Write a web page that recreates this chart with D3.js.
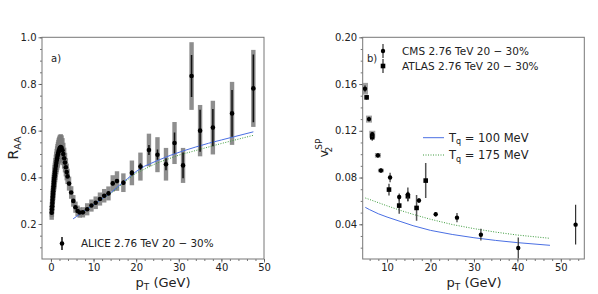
<!DOCTYPE html>
<html>
<head>
<meta charset="utf-8">
<script src="https://cdn.jsdelivr.net/npm/d3@7"></script>
<style>
  body { margin: 0; background: #fff; }
  svg text { font-family: "DejaVu Sans", sans-serif; fill: #222; }
</style>
</head>
<body>
<script>
// ---- panel a) ALICE R_AA, 20-30% ----
const alicePt = [0.175,0.225,0.275,0.325,0.375,0.425,0.475,0.525,0.575,0.625,0.675,0.725,0.775,0.825,0.875,0.925,0.975,
  1.05,1.15,1.25,1.35,1.45,1.55,1.65,1.75,1.85,1.95,2.1,2.3,2.5,2.7,2.9,3.1,3.3,3.5,3.7,3.9,4.25,4.75,5.25,5.75,6.25,6.75,7.5,
  8.5,9.5,10.5,11.5,12.5,13.5,14.5,15.5,17,19,21,23,25,27,29,31,33,35,38,42.5,47.5]
const aliceRaa = [0.248,0.262,0.276,0.290,0.303,0.316,0.328,0.340,0.351,0.362,0.372,0.382,0.391,0.400,0.409,0.417,0.425,
  0.436,0.449,0.461,0.472,0.482,0.491,0.499,0.507,0.514,0.520,0.527,0.530,0.526,0.516,0.500,0.482,0.463,0.443,0.423,0.404,0.373,0.335,0.299,0.272,0.256,0.249,0.250,
  0.263,0.279,0.291,0.307,0.321,0.331,0.374,0.384,0.377,0.419,0.446,0.517,0.497,0.456,0.547,0.451,0.834,0.600,0.613,0.674,0.781]
const aliceStat = [0.003,0.003,0.003,0.003,0.003,0.003,0.003,0.003,0.003,0.003,0.003,0.003,0.003,0.003,0.003,0.003,0.003,
  0.003,0.003,0.003,0.003,0.003,0.003,0.003,0.003,0.003,0.003,0.003,0.003,0.003,0.003,0.003,0.003,0.003,0.003,0.003,0.003,0.003,0.003,0.003,0.003,0.003,0.003,0.004,
  0.005,0.005,0.006,0.006,0.007,0.007,0.008,0.009,0.010,0.011,0.014,0.021,0.022,0.026,0.045,0.055,0.090,0.090,0.080,0.100,0.145]
const aliceSyst = [0.030,0.031,0.032,0.033,0.034,0.035,0.036,0.037,0.038,0.039,0.040,0.041,0.042,0.043,0.044,0.045,0.046,
  0.047,0.048,0.049,0.050,0.051,0.052,0.053,0.054,0.055,0.055,0.055,0.055,0.054,0.052,0.048,0.045,0.042,0.039,0.036,0.033,0.030,0.027,0.025,0.024,0.023,0.022,0.022,
  0.026,0.026,0.027,0.028,0.029,0.030,0.035,0.042,0.040,0.053,0.060,0.070,0.075,0.070,0.090,0.075,0.145,0.110,0.115,0.135,0.165]

const raaBluePt  = [5.2,6,7,8,9,10,12,14,16,18,20,22,25,28,31,34,37,40,43,47.5]
const raaBlue    = [0.222,0.232,0.245,0.258,0.270,0.283,0.308,0.333,0.365,0.395,0.425,0.448,0.472,0.494,0.513,0.530,0.546,0.560,0.574,0.595]
const raaGreenPt = [7,10,14,18,20,25,30,35,40,47.5]
const raaGreen   = [0.250,0.283,0.330,0.390,0.418,0.462,0.495,0.520,0.545,0.580]

// ---- panel b) v2 ----
const cmsPt   = [4.93,5.85,6.6,7.9,8.6,10.7,12.8,14.8,17.35,21.2,26.1,31.6,40.2,53.4]
const cmsV2   = [0.156,0.130,0.117,0.099,0.086,0.080,0.0634,0.0655,0.0603,0.0486,0.0457,0.0311,0.0197,0.0397]
const cmsErr  = [0.003,0.002,0.002,0.002,0.002,0.004,0.003,0.006,0.002,0.002,0.004,0.005,0.009,0.017]
const cmsSyst = [0.005,0.003,0.003,0.002,0.0015,0,0,0,0,0,0,0,0,0]
const atlasPt  = [5.3,6.6,10.45,12.8,14.8,16.8,18.9]
const atlasV2  = [0.1486,0.1145,0.0697,0.0560,0.0640,0.0540,0.0774]
const atlasErr = [0.002,0.003,0.005,0.007,0.004,0.011,0.015]

const v2BluePt  = [5,6,8,10,13,16,20,25,30,35,40,47.5]
const v2Blue    = [0.0545,0.0525,0.049,0.0462,0.0425,0.0388,0.0348,0.0313,0.0285,0.0262,0.0243,0.022]
const v2GreenPt = [5,6,8,10,13,16,20,25,30,35,40,47.5]
const v2Green   = [0.0625,0.0612,0.0585,0.0558,0.052,0.0485,0.0443,0.0398,0.0363,0.0333,0.0308,0.028]

const W = 598, H = 294
const svg = d3.select('body').append('svg').attr('width', W).attr('height', H)
svg.append('rect').attr('width', W).attr('height', H).attr('fill', '#fff')

const blue = '#4a6fe3', green = '#3c9a3c'

const xL = d3.scaleLinear().domain([-2.1, 50]).range([42, 264])
const yL = d3.scaleLinear().domain([0.05, 1.0]).range([259, 37.3])
const xR = d3.scaleLinear().domain([4.4, 55.4]).range([362.7, 584.3])
const yR = d3.scaleLinear().domain([0.0103, 0.20]).range([259, 37.3])

function frame(x, y, xMaj, xMin, yMaj, yMin, yFmt) {
  const g = svg.append('g')
  g.append('g').attr('transform', `translate(0,${y.range()[0]})`)
    .call(d3.axisBottom(x).tickValues(xMin).tickSize(2).tickFormat(''))
  g.append('g').attr('transform', `translate(0,${y.range()[0]})`)
    .call(d3.axisBottom(x).tickValues(xMaj).tickSize(3.5).tickPadding(1.5).tickFormat(d3.format('d')))
  g.append('g').attr('transform', `translate(${x.range()[0]},0)`)
    .call(d3.axisLeft(y).tickValues(yMin).tickSize(2).tickFormat(''))
  g.append('g').attr('transform', `translate(${x.range()[0]},0)`)
    .call(d3.axisLeft(y).tickValues(yMaj).tickSize(3.5).tickPadding(2).tickFormat(yFmt))
  g.selectAll('.domain').remove()
  g.selectAll('.tick line').attr('stroke', '#555').attr('stroke-width', 0.8)
  g.selectAll('.tick text').attr('font-size', 10).style('fill', '#222')
  g.append('rect')
    .attr('x', x.range()[0]).attr('y', y.range()[1])
    .attr('width', x.range()[1] - x.range()[0]).attr('height', y.range()[0] - y.range()[1])
    .attr('fill', 'none').attr('stroke', '#777').attr('stroke-width', 1)
  return g
}

const even = (a, b, s) => d3.range(a, b + s / 2, s).map(v => +v.toFixed(4))

frame(xL, yL, [0,10,20,30,40,50], even(0, 50, 2),
  [0.2,0.4,0.6,0.8,1.0], even(0.1, 1.0, 0.05), d3.format('.1f'))
frame(xR, yR, [10,20,30,40,50], even(6, 54, 2),
  [0.04,0.08,0.12,0.16,0.20], even(0.02, 0.2, 0.01), d3.format('.2f'))

// clip paths
svg.append('clipPath').attr('id', 'clipL').append('rect')
  .attr('x', 42).attr('y', 37.3).attr('width', 222).attr('height', 221.7)
svg.append('clipPath').attr('id', 'clipR').append('rect')
  .attr('x', 362.7).attr('y', 37.3).attr('width', 221.6).attr('height', 221.7)

// ---- panel a data ----
const gA = svg.append('g').attr('clip-path', 'url(#clipL)')
const alice = alicePt.map((p, i) => ({p, v: aliceRaa[i], s: aliceStat[i], sy: aliceSyst[i]}))
gA.selectAll('rect.syst').data(alice).join('rect')
  .attr('x', d => xL(d.p) - 2.2).attr('width', 4.4)
  .attr('y', d => yL(d.v + d.sy)).attr('height', d => yL(d.v - d.sy) - yL(d.v + d.sy))
  .attr('fill', '#7a7a7a').attr('fill-opacity', 0.85)
const lineL = (px, py) => d3.line().x((d, i) => xL(px[i])).y(d => yL(d))
gA.append('path').datum(raaGreen).attr('d', lineL(raaGreenPt, raaGreen))
  .attr('fill', 'none').attr('stroke', green).attr('stroke-width', 1).attr('stroke-dasharray', '1,1.5')
gA.append('path').datum(raaBlue).attr('d', lineL(raaBluePt, raaBlue))
  .attr('fill', 'none').attr('stroke', blue).attr('stroke-width', 1)
gA.selectAll('line.stat').data(alice).join('line')
  .attr('x1', d => xL(d.p)).attr('x2', d => xL(d.p))
  .attr('y1', d => yL(d.v + d.s)).attr('y2', d => yL(d.v - d.s))
  .attr('stroke', '#111').attr('stroke-width', 1.5)
gA.selectAll('circle').data(alice).join('circle')
  .attr('cx', d => xL(d.p)).attr('cy', d => yL(d.v)).attr('r', 2.3).attr('fill', '#000')

svg.append('text').attr('x', 51).attr('y', 62).attr('font-size', 10).text('a)')
// legend a
svg.append('line').attr('x1', 62).attr('x2', 62).attr('y1', 237).attr('y2', 250)
  .attr('stroke', '#111').attr('stroke-width', 1.5)
svg.append('circle').attr('cx', 62).attr('cy', 243.5).attr('r', 2.3).attr('fill', '#000')
svg.append('text').attr('x', 81).attr('y', 247).attr('font-size', 10.4).text('ALICE 2.76 TeV 20 − 30%')

// ---- panel b data ----
const gB = svg.append('g').attr('clip-path', 'url(#clipR)')
const lineR = (px) => d3.line().x((d, i) => xR(px[i])).y(d => yR(d))
gB.append('path').datum(v2Green).attr('d', lineR(v2GreenPt))
  .attr('fill', 'none').attr('stroke', green).attr('stroke-width', 1).attr('stroke-dasharray', '1,1.5')
gB.append('path').datum(v2Blue).attr('d', lineR(v2BluePt))
  .attr('fill', 'none').attr('stroke', blue).attr('stroke-width', 1)

const cms = cmsPt.map((p, i) => ({p, v: cmsV2[i], e: cmsErr[i], sy: cmsSyst[i]}))
const atlas = atlasPt.map((p, i) => ({p, v: atlasV2[i], e: atlasErr[i]}))
gB.selectAll('rect.syst').data(cms.filter(d => d.sy > 0)).join('rect')
  .attr('x', d => xR(d.p) - 3).attr('width', 6)
  .attr('y', d => yR(d.v + d.sy)).attr('height', d => yR(d.v - d.sy) - yR(d.v + d.sy))
  .attr('fill', '#8a8a8a').attr('fill-opacity', 0.8)
gB.selectAll('line.atl').data(atlas).join('line')
  .attr('x1', d => xR(d.p)).attr('x2', d => xR(d.p))
  .attr('y1', d => yR(d.v + d.e)).attr('y2', d => yR(d.v - d.e))
  .attr('stroke', '#555').attr('stroke-width', 1.5)
gB.selectAll('rect.atl').data(atlas).join('rect')
  .attr('x', d => xR(d.p) - 2.3).attr('y', d => yR(d.v) - 2.3).attr('width', 4.6).attr('height', 4.6)
  .attr('fill', '#000')
gB.selectAll('line.cms').data(cms).join('line')
  .attr('x1', d => xR(d.p)).attr('x2', d => xR(d.p))
  .attr('y1', d => yR(d.v + d.e)).attr('y2', d => yR(d.v - d.e))
  .attr('stroke', '#333').attr('stroke-width', 1.2)
gB.selectAll('circle').data(cms).join('circle')
  .attr('cx', d => xR(d.p)).attr('cy', d => yR(d.v)).attr('r', 2.2).attr('fill', '#000')

svg.append('text').attr('x', 367).attr('y', 62).attr('font-size', 10).text('b)')
// legend b
svg.append('line').attr('x1', 383).attr('x2', 383).attr('y1', 44).attr('y2', 58)
  .attr('stroke', '#333').attr('stroke-width', 1.2)
svg.append('circle').attr('cx', 383).attr('cy', 51).attr('r', 2.2).attr('fill', '#000')
svg.append('text').attr('x', 402).attr('y', 54.5).attr('font-size', 10.5).text('CMS 2.76 TeV 20 − 30%')
svg.append('line').attr('x1', 383).attr('x2', 383).attr('y1', 59).attr('y2', 73)
  .attr('stroke', '#555').attr('stroke-width', 1.5)
svg.append('rect').attr('x', 380.7).attr('y', 63.7).attr('width', 4.6).attr('height', 4.6).attr('fill', '#000')
svg.append('text').attr('x', 402).attr('y', 70).attr('font-size', 10.5).text('ATLAS 2.76 TeV 20 − 30%')

svg.append('line').attr('x1', 423).attr('x2', 444).attr('y1', 137.7).attr('y2', 137.7)
  .attr('stroke', blue).attr('stroke-width', 1)
svg.append('line').attr('x1', 423).attr('x2', 444).attr('y1', 155).attr('y2', 155)
  .attr('stroke', green).attr('stroke-width', 1).attr('stroke-dasharray', '1,1.5')
const tq1 = svg.append('text').attr('x', 449).attr('y', 141.5).attr('font-size', 11.5)
tq1.append('tspan').text('T')
tq1.append('tspan').attr('font-size', 8).attr('dy', 2.5).text('q')
tq1.append('tspan').attr('dy', -2.5).text(' = 100 MeV')
const tq2 = svg.append('text').attr('x', 449).attr('y', 159).attr('font-size', 11.5)
tq2.append('tspan').text('T')
tq2.append('tspan').attr('font-size', 8).attr('dy', 2.5).text('q')
tq2.append('tspan').attr('dy', -2.5).text(' = 175 MeV')

// axis labels
function ptLabel(cx) {
  const t = svg.append('text').attr('x', cx).attr('y', 287).attr('font-size', 13).attr('text-anchor', 'middle')
  t.append('tspan').text('p')
  t.append('tspan').attr('font-size', 9).attr('dy', 3).text('T')
  t.append('tspan').attr('dy', -3).text(' (GeV)')
}
ptLabel(163)
ptLabel(474)

const raaLab = svg.append('text').attr('transform', 'translate(18,148) rotate(-90)')
  .attr('font-size', 14).attr('text-anchor', 'middle')
raaLab.append('tspan').text('R')
raaLab.append('tspan').attr('font-size', 9.5).attr('dy', 3).text('AA')

const v2Lab = svg.append('text').attr('transform', 'translate(328,148) rotate(-90)')
  .attr('font-size', 13).attr('text-anchor', 'middle')
v2Lab.append('tspan').text('v')
v2Lab.append('tspan').attr('font-size', 9).attr('dy', -6).text('SP')
v2Lab.append('tspan').attr('font-size', 9).attr('dx', -14).attr('dy', 10).text('2')
</script>
</body>
</html>
